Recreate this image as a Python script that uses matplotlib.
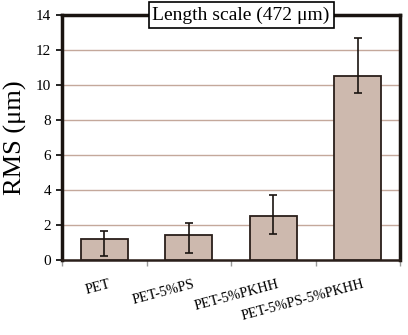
import matplotlib
matplotlib.use("Agg")
import matplotlib.pyplot as plt
import numpy as np

categories = ["PET", "PET-5%PS", "PET-5%PKHH", "PET-5%PS-5%PKHH"]
rms = [1.2, 1.43, 2.5, 10.5]
err_low = [0.98, 1.03, 1.0, 0.98]
err_high = [0.47, 0.7, 1.2, 2.2]
yticks = [0, 2, 4, 6, 8, 10, 12, 14]

plt.rcParams['font.family'] = ['Liberation Serif', 'DejaVu Serif']

fig = plt.figure(figsize=(4.08, 3.35), dpi=100)
ax = fig.add_axes([62/408, 1 - 260/335, (400-62)/408, (260-15)/335])

x = np.arange(len(categories))
ax.bar(x, rms, width=0.56, color="#cdb9ae", edgecolor="#2a1f1a", linewidth=1.3, zorder=3)
ax.errorbar(x, rms, yerr=[err_low, err_high], fmt="none", ecolor="#1a1410",
            elinewidth=1.2, capsize=3, capthick=1.2, zorder=4)

ax.set_xlim(-0.5, len(categories) - 0.5)
ax.set_ylim(0, 14)
ax.set_yticks(yticks)
ax.set_yticklabels([str(t) for t in yticks], fontsize=11)
ax.yaxis.grid(True, color="#c4a89b", linewidth=1.0, zorder=0)
ax.set_axisbelow(True)

ax.set_xticks(np.arange(-0.5, len(categories) + 0.5, 1), minor=False)
ax.set_xticklabels([])
ax.tick_params(axis='x', direction='out', length=4, color="#999999", width=1)
ax.tick_params(axis='y', direction='out', length=4, width=1.2, pad=4)

for i, c in enumerate(categories):
    ax.text(i + 0.05, -1.0, c, rotation=15, ha='right', va='top',
            rotation_mode='anchor', fontsize=10.3)

for s in ['left', 'right', 'top']:
    ax.spines[s].set_linewidth(2.5)
    ax.spines[s].set_color("#1a1410")
ax.spines['bottom'].set_linewidth(1.8)
ax.spines['bottom'].set_color("#2a1f1a")

ax.set_ylabel("RMS (μm)", fontsize=19, labelpad=6)

ax.text(0.53, 1.0, "Length scale (472 μm)", transform=ax.transAxes,
        ha='center', va='center', fontsize=14,
        bbox=dict(boxstyle='square,pad=0.2', facecolor='white', edgecolor='black', linewidth=1.2),
        zorder=10)

fig.savefig("out.png", dpi=100)
